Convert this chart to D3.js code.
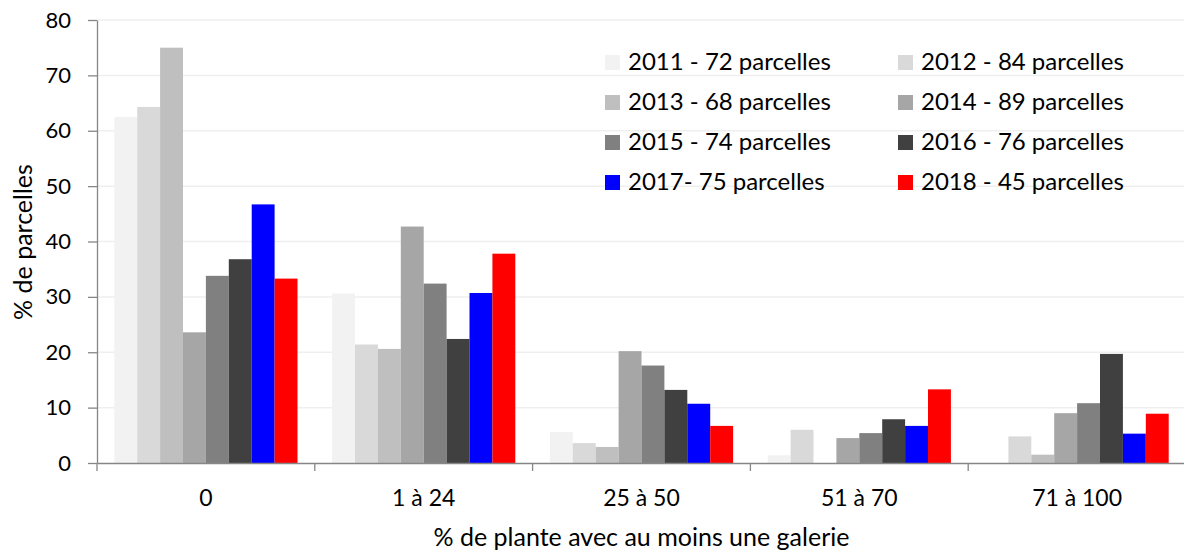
<!DOCTYPE html>
<html>
<head>
<meta charset="utf-8">
<script src="https://cdn.jsdelivr.net/npm/d3@7/dist/d3.min.js"></script>
<style>
  body { margin: 0; background: #fff; }
  svg { display: block; font-family: Lato, "Open Sans", sans-serif; }
</style>
</head>
<body>
<svg id="chart" width="1184" height="553"></svg>
<script>
// data
const categories = ['0', '1 à 24', '25 à 50', '51 à 70', '71 à 100'];
const seriesNames = ['2011 - 72 parcelles', '2012 - 84 parcelles', '2013 - 68 parcelles', '2014 - 89 parcelles',
                     '2015 - 74 parcelles', '2016 - 76 parcelles', '2017- 75 parcelles', '2018 - 45 parcelles'];
const seriesColors = ['#f2f2f2', '#d9d9d9', '#bfbfbf', '#a6a6a6', '#808080', '#404040', '#0000ff', '#ff0000'];
const v2011 = [62.5, 30.6, 5.6, 1.4, 0];
const v2012 = [64.3, 21.4, 3.6, 6.0, 4.8];
const v2013 = [75.0, 20.6, 2.9, 0, 1.5];
const v2014 = [23.6, 42.7, 20.2, 4.5, 9.0];
const v2015 = [33.8, 32.4, 17.6, 5.4, 10.8];
const v2016 = [36.8, 22.4, 13.2, 7.9, 19.7];
const v2017 = [46.7, 30.7, 10.7, 6.7, 5.3];
const v2018 = [33.3, 37.8, 6.7, 13.3, 8.9];
const yTicks = [0, 10, 20, 30, 40, 50, 60, 70, 80];

const seriesValues = [v2011, v2012, v2013, v2014, v2015, v2016, v2017, v2018];

const margin = {top: 20, right: -2, bottom: 90, left: 97};
const svg = d3.select('#chart');
const width = +svg.attr('width') - margin.left - margin.right;
const height = +svg.attr('height') - margin.top - margin.bottom;
const chart = svg.append('g').attr('transform', 'translate(' + margin.left + ',' + margin.top + ')');

const x0 = d3.scaleBand().domain(categories).range([0, width]).padding(0);
const x1 = d3.scaleBand().domain(seriesNames).range([0, x0.bandwidth()]).paddingInner(0).paddingOuter(0.755);
const y = d3.scaleLinear().domain([0, 80]).range([height, 0]);

// gridlines
chart.append('g')
  .selectAll('line')
  .data(yTicks.slice(1))
  .enter().append('line')
  .attr('x1', 0).attr('x2', width)
  .attr('y1', d => y(d)).attr('y2', d => y(d))
  .attr('stroke', '#efefef').attr('stroke-width', 1.5);

// bars
const rows = [];
seriesNames.forEach((s, i) => {
  categories.forEach((c, j) => rows.push({series: s, cat: c, value: seriesValues[i][j], color: seriesColors[i]}));
});

chart.append('g')
  .selectAll('rect')
  .data(rows)
  .enter().append('rect')
  .attr('x', d => x0(d.cat) + x1(d.series))
  .attr('y', d => y(d.value))
  .attr('width', x1.bandwidth())
  .attr('height', d => height - y(d.value))
  .attr('fill', d => d.color);

// y axis
const yAxis = chart.append('g')
  .call(d3.axisLeft(y).tickValues(yTicks).tickSize(9).tickSizeOuter(0).tickPadding(17));
yAxis.select('.domain').attr('stroke', '#868686').attr('stroke-width', 1.3);
yAxis.selectAll('.tick line').attr('stroke', '#868686').attr('stroke-width', 1.3);
yAxis.selectAll('.tick text').attr('font-size', 22).attr('fill', '#000').attr('font-family', 'Lato');

// x axis
const xAxis = chart.append('g')
  .attr('transform', 'translate(0,' + height + ')')
  .call(d3.axisBottom(x0).tickSize(0).tickPadding(27));
xAxis.select('.domain').attr('stroke', '#868686').attr('stroke-width', 1.3);
xAxis.selectAll('.tick text').attr('font-size', 23).attr('fill', '#000').attr('font-family', 'Lato');
xAxis.selectAll('.boundary')
  .data(d3.range(categories.length + 1))
  .enter().append('line')
  .attr('class', 'boundary')
  .attr('x1', i => i * x0.step()).attr('x2', i => i * x0.step())
  .attr('y1', 0).attr('y2', 8)
  .attr('stroke', '#868686').attr('stroke-width', 1.3);

// axis titles
svg.append('text')
  .attr('x', margin.left + width / 2)
  .attr('y', 546)
  .attr('text-anchor', 'middle')
  .attr('font-size', 25)
  .text('% de plante avec au moins une galerie');

svg.append('text')
  .attr('transform', 'translate(32,242) rotate(-90)')
  .attr('text-anchor', 'middle')
  .attr('font-size', 25)
  .text('% de parcelles');

// legend
const legend = svg.append('g')
  .selectAll('g')
  .data(seriesNames)
  .enter().append('g')
  .attr('transform', (d, i) => 'translate(' + (i % 2 === 0 ? 605 : 898) + ',' + (55 + Math.floor(i / 2) * 40) + ')');

legend.append('rect')
  .attr('width', 15).attr('height', 15)
  .attr('fill', (d, i) => seriesColors[i]);

legend.append('text')
  .attr('x', 23).attr('y', 15)
  .attr('font-size', 24)
  .text(d => d);
</script>
</body>
</html>
